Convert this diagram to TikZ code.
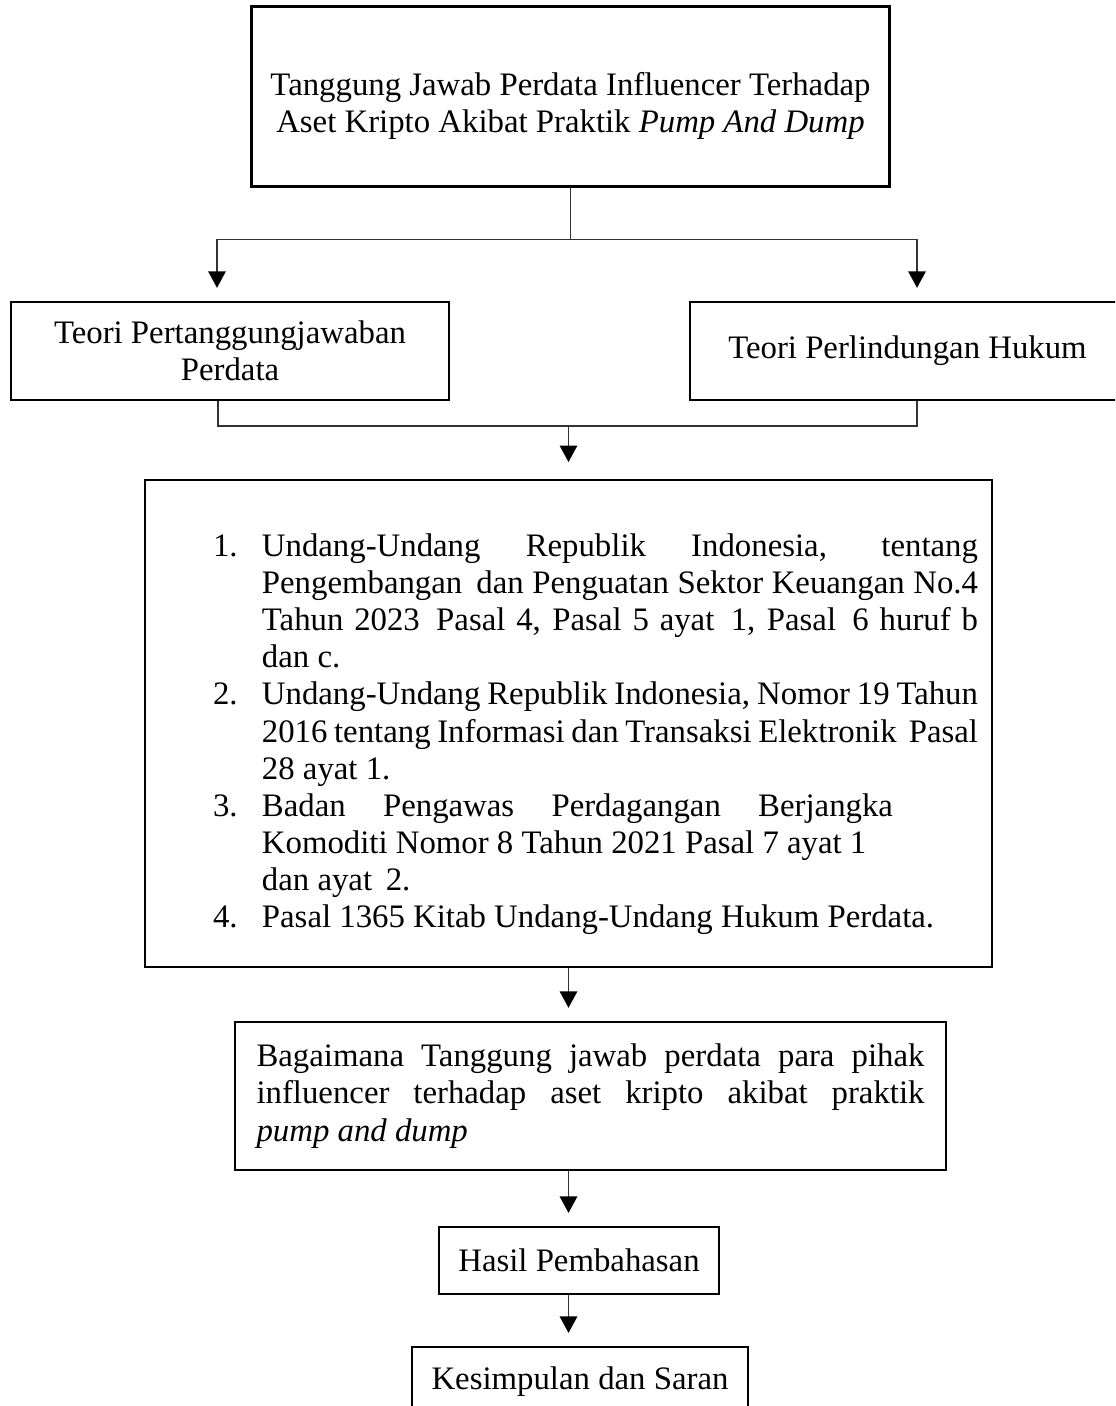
\documentclass[tikz,border=0pt]{standalone}
\usepackage{fontspec}
\setmainfont{Liberation Serif}
\usepackage{enumitem}
\usetikzlibrary{arrows.meta,calc}

\begin{document}
\begin{tikzpicture}[x=0.3659pt,y=0.3659pt,
		teks/.style={font=\fontsize{12}{13.6}\selectfont},
		kotak/.style={teks, draw, line width=0.75pt, inner sep=0pt, align=center},
		garis/.style={draw=black!80, line width=0.45pt},
		panah/.style={garis, -{Triangle[length=6pt,width=6.4pt,color=black]}, shorten >=4.8pt}]
			\path[use as bounding box, clip] (0,0) rectangle (1115,-1406);
			
			\node[kotak, line width=1.1pt, minimum width=233.1pt, minimum height=65.5pt] (judul) at (570.5,-96.5) {\rule{0pt}{4pt}\\[-2pt]Tanggung Jawab Perdata Influencer Terhadap\\Aset Kripto Akibat Praktik \textit{Pump And Dump}};
			\node[kotak, minimum width=160.3pt, minimum height=35.9pt] (teoriA) at (230,-351) {Teori Pertanggungjawaban\\Perdata};
			\node[kotak, minimum width=159.2pt, minimum height=35.9pt] (teoriB) at (907.5,-351) {Teori Perlindungan Hukum};
			\node[kotak, minimum width=309.9pt, minimum height=178.2pt] (dasar) at (568.5,-723.5) {};
			\node[teks, text width=279.9pt, align=justify, inner sep=0pt] (daftar) at (595.5,-727) {%
				\begin{enumerate}[leftmargin=17.9pt,labelsep=6pt,labelwidth=11.9pt,align=left,itemsep=0pt,topsep=0pt,parsep=0pt,partopsep=0pt]
					\item Undang-Undang Republik Indonesia, tentang\linebreak Pengembangan\, dan Penguatan Sektor Keuangan No.4\linebreak Tahun 2023\, Pasal 4, Pasal 5 ayat\, 1, Pasal\, 6 huruf b\linebreak dan c.
					\item Undang-Undang Republik Indonesia, Nomor 19 Tahun\linebreak 2016 tentang Informasi dan Transaksi Elektronik\, Pasal\linebreak 28 ayat 1.
					\item \makebox[230.9pt][s]{Badan Pengawas Perdagangan Berjangka}\newline Komoditi Nomor 8 Tahun 2021 Pasal 7 ayat 1\newline dan ayat\, 2.
					\item Pasal 1365 Kitab Undang-Undang Hukum Perdata.
				\end{enumerate}};
			\node[kotak, minimum width=260.2pt, minimum height=54.2pt, text width=244.4pt, align=justify] (tanya) at (590.5,-1096) {Bagaimana Tanggung jawab perdata para pihak\linebreak influencer terhadap aset kripto akibat praktik\linebreak \textit{pump and dump}};
			\node[kotak, minimum width=102.5pt, minimum height=24.5pt] (hasil) at (579,-1260.5) {Hasil Pembahasan};
			\node[kotak, minimum width=122.9pt, minimum height=25.6pt] (simpul) at (580,-1382) {Kesimpulan dan Saran};
			
			\draw[garis] (judul.south) -- ++(0,-52) coordinate (bagi);
			\draw[panah] (bagi) -| ($(teoriA.north)+(-13,0)$);
			\draw[panah] (bagi) -| ($(teoriB.north)+(9.5,0)$);
			\draw[garis] ($(teoriA.south)+(-12,0)$) |- ($(teoriB.south)+(9.5,-25)$) coordinate (gabung) -- ($(teoriB.south)+(9.5,0)$);
			\draw[panah, shorten >=6.2pt] (dasar.north |- gabung) -- (dasar.north);
			\draw[panah] (dasar.south) -- (dasar.south |- tanya.north);
			\draw[panah] (dasar.south |- tanya.south) -- (dasar.south |- hasil.north);
			\draw[panah] (dasar.south |- hasil.south) -- (dasar.south |- simpul.north);
			
	\end{tikzpicture}
\end{document}
